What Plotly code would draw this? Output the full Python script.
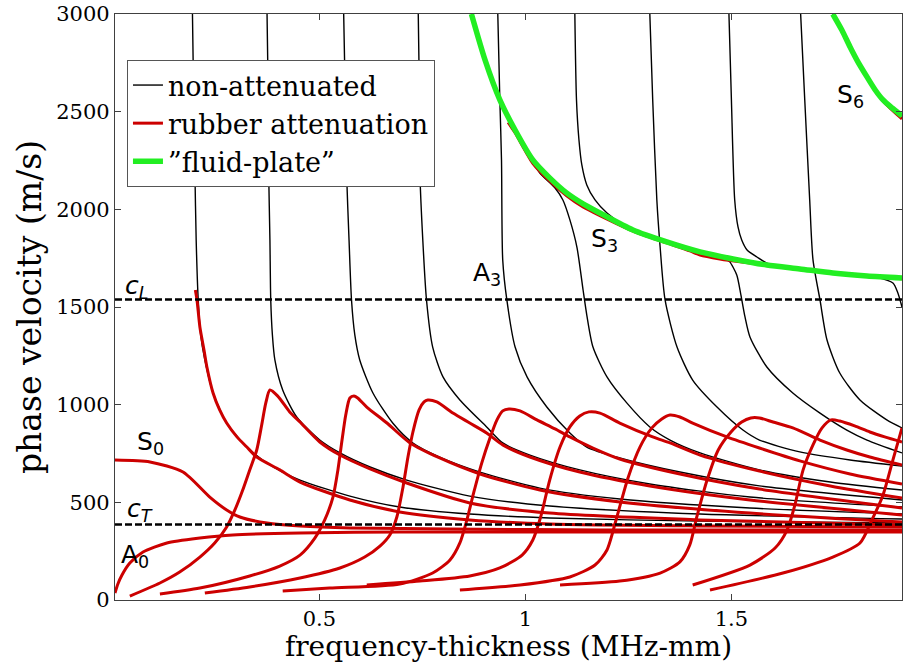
import plotly.graph_objects as go

# Bulk wave speeds of the rubber plate (m/s)
C_L = 1538
C_T = 387
F_RANGE = [0.004, 1.914]   # frequency-thickness window (MHz-mm)
V_RANGE = [0, 3000]        # phase velocity window (m/s)

# ---------------- non-attenuated Lamb modes ----------------
NA1_F = [0.192, 0.195, 0.198, 0.201, 0.206, 0.212, 0.222, 0.242, 0.275, 0.324, 0.380, 0.453, 0.574, 0.695, 0.865, 1.059, 1.424, 1.914]
NA1_C = [3000, 2560, 2186, 1843, 1536, 1357, 1229, 1060, 906, 783, 691, 614, 532, 476, 440, 420, 404, 394]

NA2_F = [0.373, 0.376, 0.377, 0.380, 0.382, 0.386, 0.392, 0.411, 0.445, 0.501, 0.550, 0.623, 0.712, 0.865, 1.059, 1.424, 1.914]
NA2_C = [3000, 2560, 2186, 1843, 1536, 1357, 1229, 1075, 937, 819, 753, 681, 614, 532, 481, 440, 415]

NA3_F = [0.559, 0.563, 0.566, 0.572, 0.578, 0.586, 0.598, 0.630, 0.678, 0.727, 0.792, 0.890, 1.035, 1.229, 1.545, 1.914]
NA3_C = [3000, 2560, 2186, 1843, 1536, 1357, 1229, 1060, 906, 804, 732, 655, 573, 517, 471, 440]

NA4_F = [0.740, 0.743, 0.744, 0.751, 0.760, 0.775, 0.800, 0.841, 0.906, 0.945, 1.011, 1.132, 1.302, 1.545, 1.914]
NA4_C = [3000, 2560, 2186, 1843, 1536, 1295, 1142, 1024, 886, 804, 742, 666, 594, 527, 476]

NA_A3_F = [0.933, 0.938, 0.942, 0.945, 0.955, 0.975, 1.004, 1.052, 1.108, 1.149, 1.229, 1.375, 1.568, 1.914]
NA_A3_C = [3000, 2560, 2253, 1741, 1536, 1295, 1142, 988, 855, 783, 727, 655, 584, 512]

NA_S3_F = [0.869, 0.902, 0.938, 0.975, 1.011, 1.035, 1.072, 1.091, 1.108, 1.125, 1.140, 1.149, 1.164, 1.198, 1.246, 1.302, 1.351, 1.424, 1.568, 1.740, 1.914]
NA_S3_C = [3000, 2765, 2560, 2406, 2268, 2186, 2109, 2048, 1946, 1807, 1587, 1459, 1295, 1142, 1009, 886, 819, 753, 666, 604, 563]

NA_S4_F = [1.120, 1.124, 1.130, 1.137, 1.149, 1.169, 1.198, 1.246, 1.343, 1.424, 1.465, 1.489, 1.496, 1.513, 1.523, 1.533, 1.545, 1.586, 1.649, 1.715, 1.780, 1.829, 1.914]
NA_S4_C = [3000, 2560, 2355, 2227, 2125, 2048, 1981, 1910, 1833, 1782, 1756, 1741, 1731, 1664, 1562, 1449, 1347, 1193, 1060, 957, 870, 819, 753]

NA_A4_F = [1.302, 1.309, 1.319, 1.327, 1.339, 1.368, 1.406, 1.465, 1.528, 1.568, 1.666, 1.788, 1.914]
NA_A4_C = [3000, 2560, 2048, 1807, 1536, 1295, 1126, 988, 870, 819, 758, 717, 686]

NA_S5_F = [1.494, 1.500, 1.508, 1.516, 1.525, 1.538, 1.562, 1.586, 1.666, 1.746, 1.812, 1.853, 1.892, 1.904, 1.914]
NA_S5_C = [3000, 2560, 2048, 1910, 1843, 1792, 1756, 1725, 1695, 1674, 1664, 1652, 1623, 1572, 1500]

NA_A5_F = [1.668, 1.678, 1.690, 1.698, 1.715, 1.732, 1.763, 1.812, 1.877, 1.914]
NA_A5_C = [3000, 2560, 2048, 1741, 1536, 1331, 1162, 1024, 922, 881]

NA_S6_F = [1.746, 1.768, 1.788, 1.807, 1.829, 1.849, 1.868, 1.890, 1.914]
NA_S6_C = [3000, 2918, 2831, 2755, 2678, 2611, 2560, 2519, 2478]

# ---------------- rubber attenuation ----------------
RA_S0_F = [0.004, 0.089, 0.169, 0.234, 0.275, 0.307, 0.373, 0.453, 0.574, 0.817, 1.181, 1.914]
RA_S0_C = [717, 707, 655, 527, 461, 425, 394, 379, 369, 364, 358, 358]

RA_A0_F = [0.004, 0.011, 0.021, 0.040, 0.072, 0.130, 0.210, 0.290, 0.453, 0.695, 1.181, 1.914]
RA_A0_C = [36, 82, 128, 189, 246, 292, 317, 333, 343, 348, 348, 348]

RA_M1_F = [0.199, 0.203, 0.210, 0.220, 0.227, 0.242, 0.258, 0.275, 0.300, 0.324, 0.348, 0.404, 0.453, 0.574, 0.695, 0.865, 1.059, 1.424, 1.914]
RA_M1_C = [1587, 1536, 1398, 1280, 1193, 1060, 973, 906, 835, 783, 732, 666, 604, 512, 451, 410, 389, 379, 374]

RA_M2_F = [0.040, 0.113, 0.161, 0.210, 0.246, 0.275, 0.295, 0.314, 0.331, 0.348, 0.360, 0.370, 0.380, 0.399, 0.428, 0.453, 0.501, 0.550, 0.623, 0.712, 0.865, 1.059, 1.424, 1.914]
RA_M2_C = [20, 87, 143, 220, 292, 374, 461, 563, 666, 768, 896, 1009, 1075, 1044, 963, 911, 809, 742, 671, 599, 497, 445, 410, 384]

RA_M3_F = [0.113, 0.210, 0.331, 0.404, 0.453, 0.489, 0.513, 0.533, 0.545, 0.555, 0.564, 0.574, 0.584, 0.593, 0.615, 0.664, 0.720, 0.792, 0.890, 1.035, 1.229, 1.545, 1.914]
RA_M3_C = [31, 61, 123, 174, 230, 317, 410, 527, 666, 819, 947, 1034, 1044, 1034, 988, 906, 804, 727, 645, 563, 502, 445, 399]

RA_M4_F = [0.222, 0.331, 0.453, 0.550, 0.610, 0.647, 0.671, 0.688, 0.703, 0.715, 0.727, 0.742, 0.754, 0.763, 0.785, 0.824, 0.865, 0.906, 0.945, 1.011, 1.132, 1.302, 1.545, 1.914]
RA_M4_C = [36, 67, 113, 164, 220, 276, 333, 425, 579, 732, 860, 973, 1014, 1024, 1014, 957, 906, 855, 794, 732, 655, 584, 512, 435]

RA_M5_F = [0.411, 0.525, 0.695, 0.775, 0.817, 0.841, 0.858, 0.875, 0.894, 0.914, 0.931, 0.945, 0.960, 0.987, 1.028, 1.072, 1.108, 1.164, 1.229, 1.375, 1.568, 1.914]
RA_M5_C = [46, 61, 82, 138, 205, 292, 410, 553, 701, 829, 922, 968, 978, 968, 922, 876, 835, 778, 722, 645, 568, 471]

RA_M6_F = [0.615, 0.744, 0.865, 0.938, 0.992, 1.018, 1.037, 1.059, 1.084, 1.108, 1.132, 1.154, 1.181, 1.229, 1.309, 1.351, 1.424, 1.568, 1.740, 1.914]
RA_M6_C = [77, 97, 123, 164, 230, 307, 425, 614, 783, 886, 942, 963, 957, 906, 835, 804, 742, 660, 584, 522]

RA_M7_F = [0.841, 0.987, 1.108, 1.169, 1.198, 1.222, 1.249, 1.278, 1.307, 1.331, 1.351, 1.375, 1.406, 1.489, 1.568, 1.666, 1.788, 1.914]
RA_M7_C = [51, 77, 118, 179, 256, 425, 625, 783, 881, 927, 947, 937, 906, 835, 778, 712, 645, 594]

RA_M8_F = [1.084, 1.229, 1.327, 1.375, 1.399, 1.416, 1.441, 1.468, 1.499, 1.525, 1.547, 1.568, 1.601, 1.649, 1.715, 1.780, 1.836, 1.914]
RA_M8_C = [77, 97, 138, 195, 282, 425, 614, 768, 860, 911, 932, 932, 911, 881, 819, 768, 732, 691]

RA_M9_F = [1.406, 1.545, 1.606, 1.635, 1.654, 1.674, 1.698, 1.720, 1.742, 1.763, 1.799, 1.836, 1.872, 1.914]
RA_M9_C = [77, 179, 266, 358, 486, 666, 794, 881, 922, 916, 891, 860, 835, 809]

RA_M10_F = [1.448, 1.625, 1.746, 1.812, 1.841, 1.868, 1.892, 1.914]
RA_M10_C = [51, 138, 220, 292, 410, 538, 717, 881]

RA_FP_F = [0.958, 0.975, 1.018, 1.059, 1.101, 1.140, 1.181, 1.261, 1.343, 1.399, 1.424, 1.472, 1.521, 1.586, 1.666, 1.746, 1.829, 1.914]
RA_FP_C = [2445, 2392, 2236, 2145, 2068, 2012, 1968, 1889, 1828, 1787, 1766, 1746, 1731, 1715, 1695, 1674, 1659, 1644]

RA_FP6_F = [1.829, 1.868, 1.914]
RA_FP6_C = [2673, 2555, 2463]

# ---------------- "fluid-plate" branches ----------------
FP_F = [0.869, 0.902, 0.938, 0.975, 1.018, 1.059, 1.100, 1.140, 1.181, 1.261, 1.343, 1.424, 1.504, 1.586, 1.666, 1.746, 1.829, 1.914]
FP_C = [3000, 2765, 2560, 2406, 2253, 2161, 2084, 2028, 1981, 1894, 1833, 1782, 1746, 1715, 1695, 1674, 1659, 1649]

FP6_F = [1.746, 1.768, 1.788, 1.807, 1.829, 1.849, 1.868, 1.890, 1.914]
FP6_C = [3000, 2918, 2831, 2755, 2678, 2611, 2560, 2519, 2478]

BLACK = "#000000"
RED = "#cc0000"
GREEN = "#22ee22"

non_attenuated = [(NA1_F, NA1_C), (NA2_F, NA2_C), (NA3_F, NA3_C), (NA4_F, NA4_C),
                  (NA_A3_F, NA_A3_C), (NA_S3_F, NA_S3_C), (NA_S4_F, NA_S4_C),
                  (NA_A4_F, NA_A4_C), (NA_S5_F, NA_S5_C), (NA_A5_F, NA_A5_C),
                  (NA_S6_F, NA_S6_C)]
attenuated = [(RA_S0_F, RA_S0_C), (RA_A0_F, RA_A0_C), (RA_M1_F, RA_M1_C),
              (RA_M2_F, RA_M2_C), (RA_M3_F, RA_M3_C), (RA_M4_F, RA_M4_C),
              (RA_M5_F, RA_M5_C), (RA_M6_F, RA_M6_C), (RA_M7_F, RA_M7_C),
              (RA_M8_F, RA_M8_C), (RA_M9_F, RA_M9_C), (RA_M10_F, RA_M10_C),
              (RA_FP_F, RA_FP_C), (RA_FP6_F, RA_FP6_C)]
fluid_plate = [(FP_F, FP_C), (FP6_F, FP6_C)]

fig = go.Figure()


def add_family(curves, color, width, label, rank):
    for i, (f, c) in enumerate(curves):
        fig.add_trace(go.Scatter(
            x=f, y=c, mode="lines",
            line=dict(color=color, width=width, shape="spline", smoothing=0.7),
            name=label, legendgroup=label, showlegend=(i == 0), legendrank=rank,
            hoverinfo="skip"))


add_family(non_attenuated, BLACK, 1.4, "non-attenuated", 1)
add_family(attenuated, RED, 3, "rubber attenuation", 2)
add_family(fluid_plate, GREEN, 5.5, "\u201dfluid-plate\u201d", 3)

# bulk velocity reference lines
for v in (C_L, C_T):
    fig.add_trace(go.Scatter(
        x=F_RANGE, y=[v, v], mode="lines",
        line=dict(color=BLACK, width=2.5, dash="7px,3px"),
        showlegend=False, hoverinfo="skip"))

labels = [
    (0.091, 804, "S<sub>0</sub>"),
    (0.052, 225, "A<sub>0</sub>"),
    (0.064, 461, "<i>c</i><sub><i>T</i></sub>"),
    (0.057, 1603, "<i>c</i><sub><i>L</i></sub>"),
    (0.907, 1669, "A<sub>3</sub>"),
    (1.193, 1843, "S<sub>3</sub>"),
    (1.790, 2580, "S<sub>6</sub>"),
]
for fx, cy, txt in labels:
    fig.add_annotation(x=fx, y=cy, text=txt, showarrow=False,
                       font=dict(family="DejaVu Sans", size=25, color="black"))

axis_common = dict(ticks="inside", ticklen=6, tickcolor="#404040", mirror="ticks",
                   showline=True, linecolor="#404040", linewidth=1.2,
                   showgrid=False, zeroline=False)

fig.update_layout(
    width=904, height=663,
    margin=dict(l=115, r=2, t=14, b=63),
    paper_bgcolor="white", plot_bgcolor="white",
    font=dict(family="DejaVu Serif", color="black"),
    xaxis=dict(range=F_RANGE, tickvals=[0.5, 1, 1.5], ticktext=["0.5", "1", "1.5"],
               tickfont=dict(size=21),
               title=dict(text="frequency-thickness (MHz-mm)", font=dict(size=28), standoff=2),
               **axis_common),
    yaxis=dict(range=V_RANGE, tickvals=[0, 500, 1000, 1500, 2000, 2500, 3000],
               tickfont=dict(size=21),
               title=dict(text="phase velocity (m/s)", font=dict(size=33), standoff=4),
               **axis_common),
    legend=dict(x=0.0152, y=0.9215, xanchor="left", yanchor="top",
                bgcolor="white", bordercolor="#555555", borderwidth=1,
                font=dict(family="DejaVu Serif", size=27), itemwidth=30,
                tracegroupgap=0),
    showlegend=True,
)

fig.write_html("out.html")
